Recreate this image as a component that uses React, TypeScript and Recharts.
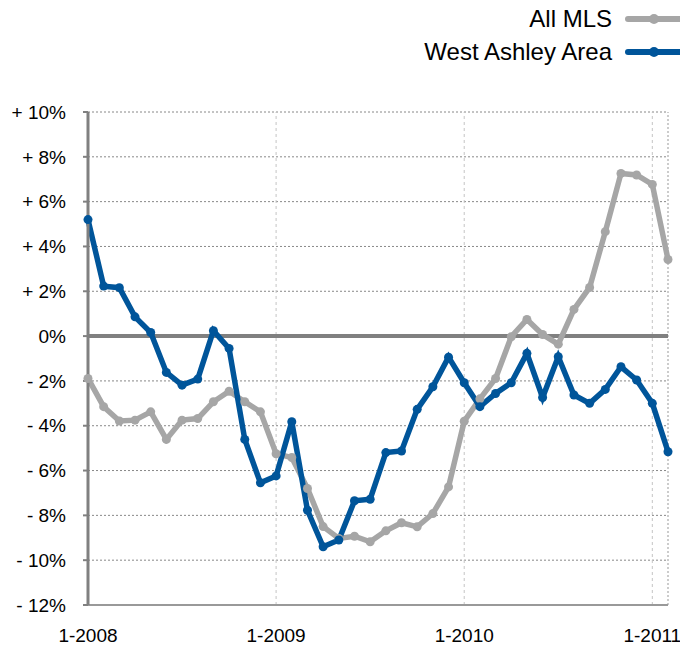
import { LineChart, Line, XAxis, YAxis, CartesianGrid, ReferenceLine } from "recharts"

const months = [
  "1-2008", "2-2008", "3-2008", "4-2008", "5-2008", "6-2008", "7-2008", "8-2008", "9-2008", "10-2008", "11-2008", "12-2008",
  "1-2009", "2-2009", "3-2009", "4-2009", "5-2009", "6-2009", "7-2009", "8-2009", "9-2009", "10-2009", "11-2009", "12-2009",
  "1-2010", "2-2010", "3-2010", "4-2010", "5-2010", "6-2010", "7-2010", "8-2010", "9-2010", "10-2010", "11-2010", "12-2010",
  "1-2011", "2-2011",
]

const allMls = [
  -1.89, -3.15, -3.79, -3.75, -3.38, -4.61, -3.75, -3.68, -2.93, -2.46, -2.93, -3.38,
  -5.25, -5.42, -6.8, -8.5, -9.03, -8.93, -9.18, -8.69, -8.33, -8.51, -7.92, -6.73,
  -3.8, -2.8, -1.89, -0.03, 0.74, 0.07, -0.36, 1.19, 2.17, 4.66, 7.26, 7.19,
  6.77, 3.42,
]

const westAshley = [
  5.2, 2.23, 2.16, 0.86, 0.16, -1.62, -2.19, -1.92, 0.24, -0.55, -4.61, -6.55,
  -6.24, -3.82, -7.77, -9.4, -9.1, -7.35, -7.28, -5.2, -5.13, -3.27, -2.26, -0.94,
  -2.08, -3.15, -2.56, -2.08, -0.77, -2.74, -0.92, -2.63, -3.0, -2.38, -1.37, -1.96,
  -3.0, -5.16,
]

const yTicks = [-12, -10, -8, -6, -4, -2, 0, 2, 4, 6, 8, 10]
const xTicks = ["1-2008", "1-2009", "1-2010", "1-2011"]
const yearLines = ["1-2009", "1-2010", "1-2011"]

const data = months.map((month, i) => ({
  month,
  allMls: allMls[i],
  westAshley: westAshley[i],
}))

const GRAY = "#a6a6a6"
const BLUE = "#00559a"
const FONT = "'Liberation Sans', Arial, Helvetica, sans-serif"

function formatPct(v: number) {
  if (v > 0) return `+ ${v}%`
  if (v < 0) return `- ${Math.abs(v)}%`
  return "0%"
}

function LegendRow({ label, color, top }: { label: string; color: string; top: number }) {
  return (
    <div
      style={{
        position: "absolute",
        top,
        right: 0,
        display: "flex",
        alignItems: "center",
        fontFamily: FONT,
        fontSize: 24,
        color: "#000",
        whiteSpace: "nowrap",
      }}
    >
      <span style={{ marginRight: 13 }}>{label}</span>
      <svg width={55} height={12}>
        <line x1={3} y1={6} x2={55} y2={6} stroke={color} strokeWidth={6} strokeLinecap="round" />
        <circle cx={29} cy={6} r={5} fill={color} />
      </svg>
    </div>
  )
}

export default function App() {
  return (
    <div style={{ position: "absolute", left: 0, top: 0, width: 680, height: 646, background: "#fff" }}>
      <LegendRow label="All MLS" color={GRAY} top={5} />
      <LegendRow label="West Ashley Area" color={BLUE} top={38} />
      <LineChart
        width={680}
        height={646}
        data={data}
        margin={{ top: 112, right: 12, bottom: 0, left: 0 }}
        style={{ fontFamily: FONT }}
      >
        <CartesianGrid vertical={false} stroke="#888" strokeDasharray="2 2" />
        {yearLines.map((m) => (
          <ReferenceLine key={m} x={m} stroke="#c4c4c4" strokeDasharray="3 3" />
        ))}
        <ReferenceLine x="2-2011" stroke="#999" strokeDasharray="2 2" />
        <XAxis
          dataKey="month"
          ticks={xTicks}
          interval={0}
          height={41}
          tickLine={false}
          tickSize={0}
          tickMargin={24}
          axisLine={{ stroke: "#999", strokeWidth: 2 }}
          tick={{ fill: "#000", fontSize: 19 }}
        />
        <YAxis
          domain={[-12, 10]}
          ticks={yTicks}
          interval={0}
          width={88}
          tickFormatter={formatPct}
          tickSize={5}
          tickMargin={17}
          tickLine={{ stroke: "#808080", strokeWidth: 2 }}
          axisLine={{ stroke: "#808080", strokeWidth: 3 }}
          tick={{ fill: "#000", fontSize: 19 }}
        />
        <ReferenceLine y={0} stroke="#808080" strokeWidth={4} />
        <Line
          type="linear"
          dataKey="allMls"
          stroke={GRAY}
          strokeWidth={5.5}
          dot={{ r: 4.5, fill: GRAY, stroke: "none" }}
          isAnimationActive={false}
        />
        <Line
          type="linear"
          dataKey="westAshley"
          stroke={BLUE}
          strokeWidth={5.5}
          dot={{ r: 4.5, fill: BLUE, stroke: "none" }}
          isAnimationActive={false}
        />
      </LineChart>
    </div>
  )
}
